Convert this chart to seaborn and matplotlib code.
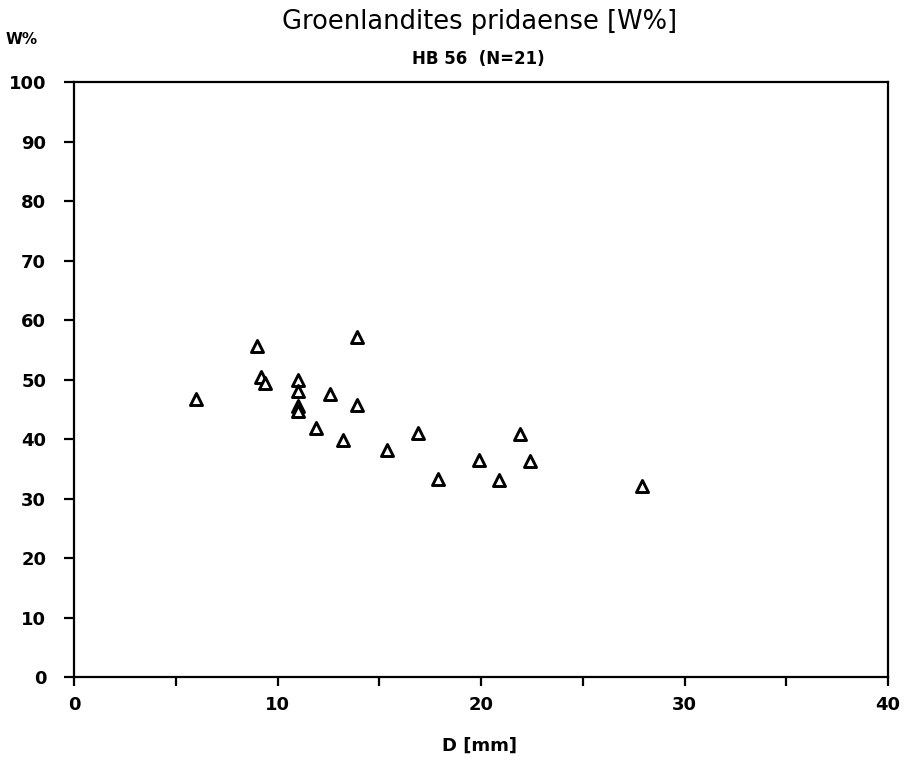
import matplotlib
matplotlib.use("Agg")
import matplotlib.pyplot as plt
import seaborn as sns
import pandas as pd

sns.set_style("ticks")
plt.rcParams['font.family'] = ['DejaVu Sans']
plt.rcParams['text.color'] = 'black'
plt.rcParams['xtick.color'] = 'black'
plt.rcParams['ytick.color'] = 'black'

d_mm = [6.0, 9.0, 9.2, 9.4, 11.0, 11.0, 11.0, 11.0, 11.9, 12.6, 13.2, 13.9, 13.9,
        15.4, 16.9, 17.9, 19.9, 20.9, 21.9, 22.4, 27.9]
w_pct = [46.7, 55.6, 50.5, 49.4, 49.9, 48.1, 45.6, 44.7, 41.8, 47.6, 39.9, 57.2, 45.8,
         38.1, 41.1, 33.3, 36.5, 33.2, 40.9, 36.4, 32.2]

x_ticks_major = [0, 10, 20, 30, 40]
x_ticks_minor = [5, 15, 25, 35]
y_ticks = [0, 10, 20, 30, 40, 50, 60, 70, 80, 90, 100]

df = pd.DataFrame({"D": d_mm, "W": w_pct})

fig = plt.figure(figsize=(9.06, 7.6), dpi=100)
ax = fig.add_axes([0.0817, 0.109, 0.8985, 0.783])

sns.scatterplot(data=df, x="D", y="W", ax=ax, marker="^", s=75,
                facecolor="white", edgecolor="black", linewidth=2.1, zorder=3)

ax.set_xlim(0, 40)
ax.set_ylim(0, 100)
ax.set_xticks(x_ticks_major)
ax.set_xticks(x_ticks_minor, minor=True)
ax.set_yticks(y_ticks)
ax.set_xticklabels([str(v) for v in x_ticks_major], fontweight="bold", fontsize=13, color="black")
ax.set_yticklabels([str(v) for v in y_ticks], fontweight="bold", fontsize=13, color="black")
ax.tick_params(axis="x", which="both", direction="out", length=6.5, width=1.6, pad=7, color="black")
ax.tick_params(axis="y", which="major", direction="out", length=7, width=1.6, pad=13, color="black")
for sp in ax.spines.values():
    sp.set_visible(True)
    sp.set_linewidth(1.6)
    sp.set_color("black")

ax.set_xlabel("")
ax.set_ylabel("")

fig.text(480 / 906, 1 - 22 / 760, "Groenlandites pridaense [W%]", ha="center", va="center",
         fontsize=18.5, color="black")
fig.text(478 / 906, 1 - 59 / 760, "HB 56  (N=21)", ha="center", va="center",
         fontsize=12, fontweight="bold", color="black")
fig.text(22 / 906, 1 - 40 / 760, "W%", ha="center", va="center",
         fontsize=11, fontweight="bold", color="black")
fig.text(479 / 906, 1 - 746 / 760, "D [mm]", ha="center", va="center",
         fontsize=13, fontweight="bold", color="black")

fig.savefig("out.png", dpi=100, facecolor="white")
